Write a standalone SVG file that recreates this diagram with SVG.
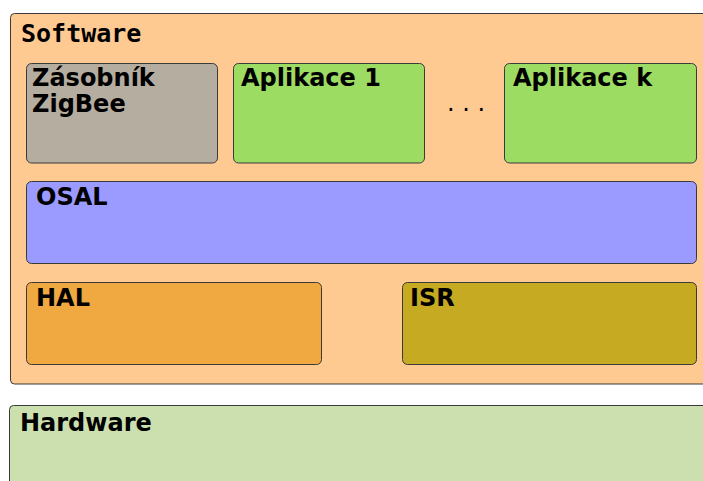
<svg xmlns="http://www.w3.org/2000/svg" width="703" height="481" viewBox="0 0 703 481">
  <style>
    .box { stroke: #3a3a3a; stroke-width: 1; }
    .lbl { font-family: "DejaVu Sans", sans-serif; font-weight: bold; font-size: 24px; fill: #000; }
    .mono { font-family: "DejaVu Sans Mono", monospace; font-weight: bold; font-size: 25px; fill: #000; }
    .dots { font-family: "DejaVu Sans", sans-serif; font-size: 24px; fill: #000; }
  </style>
  <rect width="703" height="481" fill="#ffffff"/>

  <g id="software">
    <rect class="box" x="10.5" y="13.5" width="700" height="370.5" rx="4" fill="#ffc992"/>
    <text class="mono" x="21" y="42">Software</text>
  </g>

  <g id="zasobnik">
    <rect class="box" x="26.5" y="63.5" width="191" height="99.5" rx="5" fill="#b5ad9f"/>
    <text class="lbl" x="32" y="86">Zásobník</text>
    <text class="lbl" x="32" y="112">ZigBee</text>
  </g>

  <g id="aplikace1">
    <rect class="box" x="233.5" y="63.5" width="191" height="99.5" rx="5" fill="#9cdc62"/>
    <text class="lbl" x="241" y="86">Aplikace 1</text>
  </g>

  <g id="dots">
    <text class="dots" x="447" y="111">. . .</text>
  </g>

  <g id="aplikacek">
    <rect class="box" x="504.5" y="63.5" width="192" height="99.5" rx="5" fill="#9cdc62"/>
    <text class="lbl" x="513" y="86">Aplikace k</text>
  </g>

  <g id="osal">
    <rect class="box" x="26.5" y="181.5" width="670" height="82" rx="5" fill="#9a9aff"/>
    <text class="lbl" x="36" y="205">OSAL</text>
  </g>

  <g id="hal">
    <rect class="box" x="26.5" y="282.5" width="295" height="82" rx="5" fill="#f0a840"/>
    <text class="lbl" x="36" y="306">HAL</text>
  </g>

  <g id="isr">
    <rect class="box" x="402.5" y="282.5" width="294" height="82" rx="5" fill="#c5aa22"/>
    <text class="lbl" x="410" y="306">ISR</text>
  </g>

  <g id="hardware">
    <rect class="box" x="9.5" y="405.5" width="700" height="100" rx="4" fill="#cbe0ae"/>
    <text class="lbl" x="20" y="431">Hardware</text>
  </g>

  <g id="connectors"/>
</svg>
